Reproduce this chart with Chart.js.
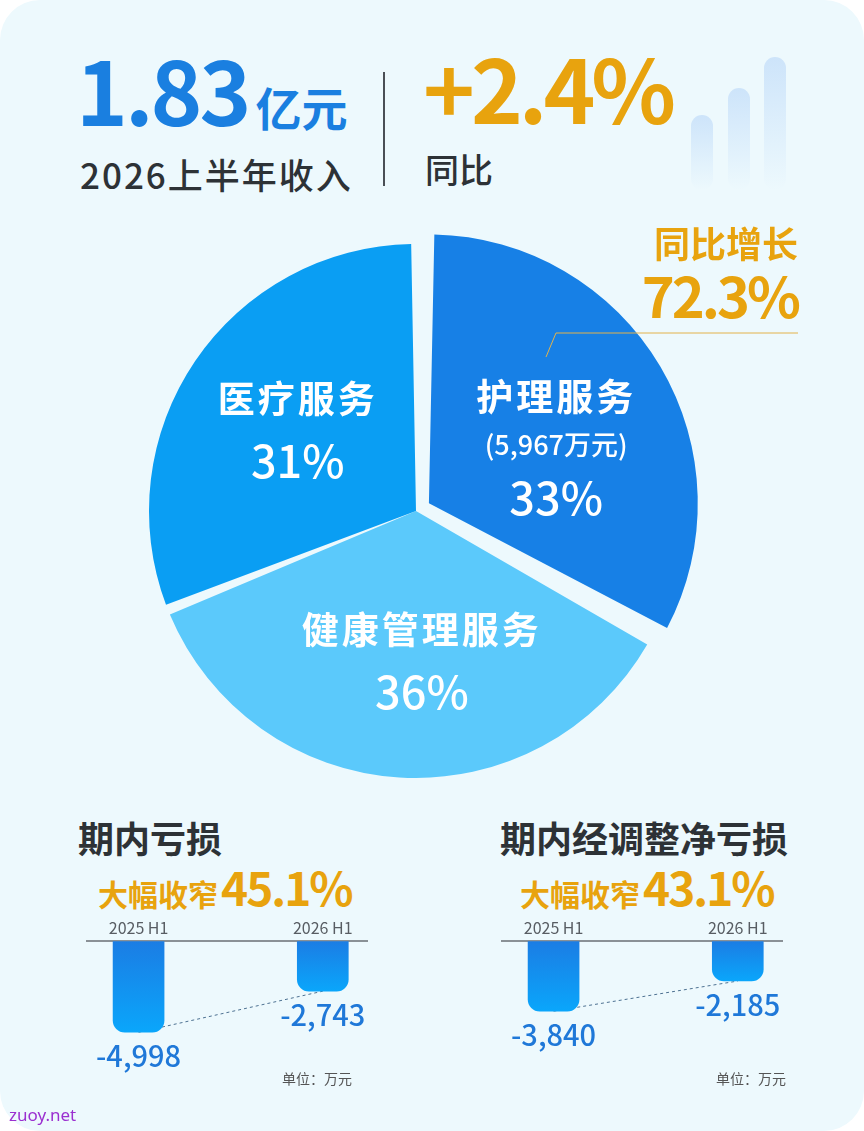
<!DOCTYPE html>
<html lang="zh-CN">
<head>
<meta charset="utf-8">
<title>2026上半年收入</title>
<script src="https://cdn.jsdelivr.net/npm/chart.js@4.4.1/dist/chart.umd.min.js"></script>
<style>
  html, body { margin: 0; padding: 0; background: #fff; }
  body { width: 864px; height: 1131px; position: relative; overflow: hidden;
         font-family: "Noto Sans CJK SC", "Noto Sans", sans-serif; }
  .card { position: absolute; left: 0; top: 0; width: 864px; height: 1131px;
          border-radius: 40px; background: #edf9fd; }
  .abs { position: absolute; line-height: 1; white-space: nowrap; }
  .blue { color: #1a7fe0; }
  .gold { color: #e8a30e; }
  .dark { color: #2d3236; }
  .deco { position: absolute; width: 22px; border-radius: 11px;
          background: linear-gradient(#cde4fa, rgba(225, 241, 252, 0)); }
  canvas { position: absolute; }
</style>
</head>
<body>
<div class="card"></div>

<!-- headline -->
<div class="abs blue" style="left:76px; top:44px; font-size:88px; font-weight:700;">
  <span id="revenue" style="letter-spacing:-3px;"></span><span style="font-size:46px; margin-left:7px;">亿元</span>
</div>
<div class="abs dark" style="left:80px; top:156px; font-size:35px; font-weight:500; letter-spacing:2px;">2026上半年收入</div>
<div style="position:absolute; left:383px; top:72px; width:1.5px; height:114px; background:#4a4f55;"></div>
<div class="abs gold" id="yoy" style="left:423px; top:42px; font-size:88px; font-weight:700; letter-spacing:-4px;"></div>
<div class="abs dark" style="left:425px; top:152px; font-size:34px; font-weight:500;">同比</div>
<div class="deco" style="left:691px; top:115px; height:75px;"></div>
<div class="deco" style="left:728px; top:88px; height:102px;"></div>
<div class="deco" style="left:764px; top:57px; height:133px;"></div>

<!-- pie -->
<canvas id="pie" width="864" height="594" style="left:0; top:214px;"></canvas>
<div class="abs gold" style="right:66px; top:224px; font-size:36px; font-weight:700;">同比增长</div>
<div class="abs gold" id="growth" style="right:66px; top:266px; font-size:56px; font-weight:700; letter-spacing:-3px;"></div>
<svg style="position:absolute; left:0; top:0;" width="864" height="400">
  <polyline points="546,357 556,333 798,333" fill="none" stroke="#e3b24a" stroke-width="1"/>
</svg>

<!-- losses -->
<div class="abs dark" style="left:78px; top:819px; font-size:36px; font-weight:700;">期内亏损</div>
<div class="abs gold" style="left:98px; top:863px; font-size:46px; font-weight:700;">
  <span style="font-size:30px;">大幅收窄</span><span id="narrow1" style="letter-spacing:-2px; margin-left:3px;"></span>
</div>
<canvas id="loss" width="330" height="220" style="left:60px; top:890px;"></canvas>
<div class="abs" style="left:282px; top:1071px; font-size:14px; color:#555;">单位：万元</div>

<div class="abs dark" style="left:500px; top:819px; font-size:36px; font-weight:700;">期内经调整净亏损</div>
<div class="abs gold" style="left:520px; top:863px; font-size:46px; font-weight:700;">
  <span style="font-size:30px;">大幅收窄</span><span id="narrow2" style="letter-spacing:-2px; margin-left:3px;"></span>
</div>
<canvas id="adjloss" width="330" height="220" style="left:475px; top:890px;"></canvas>
<div class="abs" style="left:716px; top:1071px; font-size:14px; color:#555;">单位：万元</div>

<div class="abs" style="left:9px; top:1106px; font-size:17px; color:#9b30d0; font-family:'Noto Sans', sans-serif;">zuoy.net</div>

<script>
var FONT = '"Noto Sans CJK SC", "Noto Sans", sans-serif';

// headline figures
var revenue = 1.83;        // 亿元
var revenueYoy = 2.4;      // %
var nursingYoy = 72.3;     // %
var lossNarrowed = 45.1;   // %
var adjLossNarrowed = 43.1;

// revenue split, clockwise from the top
var segments = ['护理服务', '健康管理服务', '医疗服务'];
var shares = [33, 36, 31];
var amounts = [5967, null, null];   // 万元
var segmentColors = ['#1780e6', '#5bc9fb', '#0a9ef3'];
var segmentOffsets = [60, 0, 0];
var labelNudge = [[2, 18], [15, 5], [2, 1]];

// losses, 万元
var periods = ['2025 H1', '2026 H1'];
var netLoss = [-4998, -2743];
var adjLoss = [-3840, -2185];

document.getElementById('revenue').textContent = revenue.toFixed(2);
document.getElementById('yoy').textContent = '+' + revenueYoy + '%';
document.getElementById('growth').textContent = nursingYoy + '%';
document.getElementById('narrow1').textContent = lossNarrowed + '%';
document.getElementById('narrow2').textContent = adjLossNarrowed + '%';

Chart.defaults.font.family = FONT;

// name / amount / share written inside each slice
var pieLabels = {
  id: 'pieLabels',
  afterDatasetsDraw: function(chart) {
    var ctx = chart.ctx;
    ctx.save();
    ctx.fillStyle = '#fff';
    ctx.textAlign = 'center';
    ctx.textBaseline = 'middle';
    chart.getDatasetMeta(0).data.forEach(function(arc, i) {
      var p = arc.getProps(['x', 'y', 'startAngle', 'endAngle', 'outerRadius'], true);
      var mid = (p.startAngle + p.endAngle) / 2;
      var dist = p.outerRadius * 0.55 + (arc.options.offset || 0) / 4;
      var cx = p.x + Math.cos(mid) * dist + labelNudge[i][0];
      var cy = p.y + Math.sin(mid) * dist + labelNudge[i][1];
      var rows;
      if (amounts[i]) {
        rows = [[segments[i], '700 37px ', -50], ['(' + amounts[i].toLocaleString('en-US') + '万元)', '500 27px ', -3], [shares[i] + '%', '500 45px ', 51]];
      } else {
        rows = [[segments[i], '700 37px ', -31], [shares[i] + '%', '500 45px ', 31]];
      }
      rows.forEach(function(r, k) {
        ctx.font = r[1] + FONT;
        ctx.letterSpacing = k === 0 ? '3px' : '0px';
        ctx.fillText(r[0], cx, cy + r[2]);
      });
    });
    ctx.restore();
  }
};

new Chart(document.getElementById('pie'), {
  type: 'pie',
  data: {
    labels: segments,
    datasets: [{
      data: shares,
      backgroundColor: segmentColors,
      borderWidth: 0,
      spacing: 5,
      offset: segmentOffsets
    }]
  },
  options: {
    responsive: false,
    animation: false,
    layout: { padding: { left: 0, right: 32 } },
    plugins: { legend: { display: false }, tooltip: { enabled: false } }
  },
  plugins: [pieLabels]
});

// value under each bar
var barValues = {
  id: 'barValues',
  afterDatasetsDraw: function(chart) {
    var ctx = chart.ctx;
    var ds = chart.data.datasets[0];
    ctx.save();
    ctx.font = '500 29px ' + FONT;
    ctx.fillStyle = '#1f78d8';
    ctx.textAlign = 'center';
    ctx.textBaseline = 'alphabetic';
    chart.getDatasetMeta(0).data.forEach(function(bar, i) {
      ctx.fillText(ds.data[i].y.toLocaleString('en-US'), bar.x, bar.y + 35);
    });
    ctx.restore();
  }
};

function barFill(c) {
  var chart = c.chart;
  if (!chart.chartArea || c.type !== 'data') return '#1a8ae8';
  var y = chart.scales.y;
  var g = chart.ctx.createLinearGradient(0, y.getPixelForValue(0), 0, y.getPixelForValue(c.raw.y));
  g.addColorStop(0, '#1b7de4');
  g.addColorStop(1, '#0aa6fb');
  return g;
}

function lossChart(id, values) {
  var points = values.map(function(v, i) { return { x: i, y: v }; });
  return new Chart(document.getElementById(id), {
    type: 'bar',
    data: {
      datasets: [{
        type: 'bar',
        data: points,
        barThickness: 51,
        borderRadius: 12,
        borderSkipped: 'start',
        backgroundColor: barFill
      }, {
        type: 'line',
        data: points,
        borderColor: '#4d7191',
        borderWidth: 1,
        borderDash: [3, 3],
        pointRadius: 0
      }]
    },
    options: {
      responsive: false,
      animation: false,
      layout: { padding: { left: 27, right: 23, top: 24, bottom: 23 } },
      plugins: { legend: { display: false }, tooltip: { enabled: false } },
      scales: {
        x: {
          type: 'linear',
          position: 'top',
          offset: false,
          min: -0.28,
          max: 1.24,
          grid: { display: false, drawTicks: false },
          border: { color: '#8a9196', width: 2 },
          afterBuildTicks: function(axis) {
            axis.ticks = periods.map(function(p, i) { return { value: i }; });
          },
          ticks: {
            callback: function(v) { return periods[v]; },
            color: '#585d63',
            font: { size: 16 },
            padding: 4,
            autoSkip: false,
            maxRotation: 0
          }
        },
        y: { display: false, min: -8000, max: 0 }
      }
    },
    plugins: [barValues]
  });
}

lossChart('loss', netLoss);
lossChart('adjloss', adjLoss);
</script>
</body>
</html>
